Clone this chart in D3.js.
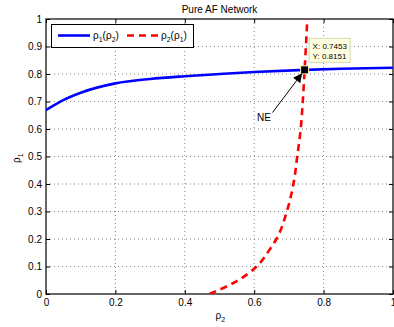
<!DOCTYPE html>
<html>
<head>
<meta charset="utf-8">
<script src="https://cdn.jsdelivr.net/npm/d3@7"></script>
<style>
  html, body { margin: 0; padding: 0; background: #fff; }
  svg { display: block; font-family: "Liberation Sans", Arial, sans-serif; }
</style>
</head>
<body>
<svg id="chart" width="394" height="327"></svg>
<script>
// ρ1 as a function of ρ2 (solid blue)
const blueRho2 = [0, 0.04, 0.1, 0.2, 0.3, 0.4, 0.5, 0.6, 0.7453, 0.85, 1];
const blueRho1 = [0.669, 0.699, 0.732, 0.766, 0.782, 0.792, 0.800, 0.807, 0.8151, 0.819, 0.823];

// ρ2 as a function of ρ1 (dashed red)
const redRho1 = [0, 0.04, 0.1, 0.155, 0.2, 0.3, 0.4, 0.5, 0.6, 0.7, 0.8151, 0.9, 1];
const redRho2 = [0.471, 0.54, 0.607, 0.641, 0.664, 0.694, 0.713, 0.724, 0.734, 0.740, 0.7453, 0.749, 0.753];

// Nash equilibrium point
const neX = 0.7453;
const neY = 0.8151;

const xTicks = [0, 0.2, 0.4, 0.6, 0.8, 1];
const yTicks = [0, 0.1, 0.2, 0.3, 0.4, 0.5, 0.6, 0.7, 0.8, 0.9, 1];
const xTickLabels = ["0", "0.2", "0.4", "0.6", "0.8", "1"];
const yTickLabels = ["0", "0.1", "0.2", "0.3", "0.4", "0.5", "0.6", "0.7", "0.8", "0.9", "1"];

const svg = d3.select("#chart");
const plotL = 46, plotR = 393, plotT = 19, plotB = 294;

const x = d3.scaleLinear().domain([0, 1]).range([plotL, plotR]);
const y = d3.scaleLinear().domain([0, 1]).range([plotB, plotT]);

const defs = svg.append("defs");
defs.append("clipPath").attr("id", "plotClip")
  .append("rect").attr("x", plotL).attr("y", plotT)
  .attr("width", plotR - plotL).attr("height", plotB - plotT);

// dotted grid
const grid = svg.append("g").attr("stroke", "#333").attr("stroke-width", 0.6)
  .attr("stroke-dasharray", "1,3").attr("fill", "none");
xTicks.slice(1, -1).forEach(t => {
  grid.append("line").attr("x1", x(t)).attr("x2", x(t)).attr("y1", plotT).attr("y2", plotB);
});
yTicks.slice(1, -1).forEach(t => {
  grid.append("line").attr("x1", plotL).attr("x2", plotR).attr("y1", y(t)).attr("y2", y(t));
});

// axes with inward ticks
const tickFmtX = (d, i) => xTickLabels[i];
const tickFmtY = (d, i) => yTickLabels[i];
const axisStyle = g => {
  g.select(".domain").remove();
  g.selectAll("text").attr("font-size", 10).attr("fill", "#000")
    .attr("font-family", "Liberation Sans, Arial, sans-serif");
  g.selectAll("line").attr("stroke", "#000");
};
svg.append("g").attr("transform", `translate(0,${plotB})`)
  .call(d3.axisBottom(x).tickValues(xTicks).tickFormat(tickFmtX).tickSizeInner(-4).tickPadding(5))
  .call(axisStyle);
svg.append("g").attr("transform", `translate(${plotL},0)`)
  .call(d3.axisLeft(y).tickValues(yTicks).tickFormat(tickFmtY).tickSizeInner(-4).tickPadding(4))
  .call(axisStyle);
svg.append("g").attr("transform", `translate(0,${plotT})`)
  .call(d3.axisTop(x).tickValues(xTicks).tickFormat("").tickSizeInner(-4))
  .call(axisStyle);
svg.append("g").attr("transform", `translate(${plotR},0)`)
  .call(d3.axisRight(y).tickValues(yTicks).tickFormat("").tickSizeInner(-4))
  .call(axisStyle);

// frame
svg.append("rect").attr("x", plotL).attr("y", plotT)
  .attr("width", plotR - plotL).attr("height", plotB - plotT)
  .attr("fill", "none").attr("stroke", "#000").attr("stroke-width", 1.2);

const plot = svg.append("g").attr("clip-path", "url(#plotClip)");

// blue curve
const blueData = blueRho2.map((v, i) => [v, blueRho1[i]]);
plot.append("path").datum(blueData)
  .attr("d", d3.line().x(d => x(d[0])).y(d => y(d[1])).curve(d3.curveMonotoneX))
  .attr("fill", "none").attr("stroke", "#0000ff").attr("stroke-width", 2.6);

// red dashed curve
const redData = redRho1.map((v, i) => [redRho2[i], v]);
plot.append("path").datum(redData)
  .attr("d", d3.line().x(d => x(d[0])).y(d => y(d[1])).curve(d3.curveMonotoneY))
  .attr("fill", "none").attr("stroke", "#ff0000").attr("stroke-width", 2.6)
  .attr("stroke-dasharray", "7,5");

// equilibrium marker
svg.append("rect")
  .attr("x", x(neX) - 4).attr("y", y(neY) - 4)
  .attr("width", 8).attr("height", 8)
  .attr("fill", "#000").attr("stroke", "#ffffcc").attr("stroke-width", 1);

// data tip
const tip = svg.append("g");
tip.append("rect").attr("x", x(neX) + 4.5).attr("y", y(neY) - 31.5)
  .attr("width", 41).attr("height", 24)
  .attr("fill", "#ffffe1").attr("stroke", "#d8d8b0").attr("stroke-width", 1);
tip.append("text").attr("x", x(neX) + 8).attr("y", y(neY) - 21)
  .attr("font-size", 8).attr("fill", "#000").text(`X: ${neX.toFixed(4)}`);
tip.append("text").attr("x", x(neX) + 8).attr("y", y(neY) - 11)
  .attr("font-size", 8).attr("fill", "#000").text(`Y: ${neY.toFixed(4)}`);

// NE annotation arrow
defs.append("marker").attr("id", "arrowHead")
  .attr("viewBox", "0 0 10 10").attr("refX", 10).attr("refY", 5)
  .attr("markerWidth", 9).attr("markerHeight", 9).attr("markerUnits", "userSpaceOnUse")
  .attr("orient", "auto")
  .append("path").attr("d", "M0,0 L10,5 L0,10 z").attr("fill", "#000");
svg.append("line")
  .attr("x1", 272.5).attr("y1", 112.5)
  .attr("x2", x(neX) - 2.5).attr("y2", y(neY) + 3.5)
  .attr("stroke", "#000").attr("stroke-width", 1)
  .attr("marker-end", "url(#arrowHead)");
svg.append("text").attr("x", 257).attr("y", 121)
  .attr("font-size", 10).attr("fill", "#000").text("NE");

// legend
const lg = svg.append("g");
lg.append("rect").attr("x", 51.5).attr("y", 24.5).attr("width", 142).attr("height", 23)
  .attr("fill", "#fff").attr("stroke", "#000").attr("stroke-width", 1);
lg.append("line").attr("x1", 58).attr("x2", 90).attr("y1", 35.5).attr("y2", 35.5)
  .attr("stroke", "#0000ff").attr("stroke-width", 2.6);
const t1 = lg.append("text").attr("x", 93).attr("y", 39).attr("font-size", 10).attr("fill", "#000");
t1.append("tspan").text("ρ");
t1.append("tspan").attr("font-size", 7).attr("dy", 3).text("1");
t1.append("tspan").attr("dy", -3).text("(ρ");
t1.append("tspan").attr("font-size", 7).attr("dy", 3).text("2");
t1.append("tspan").attr("dy", -3).text(")");
lg.append("line").attr("x1", 127).attr("x2", 158).attr("y1", 35.5).attr("y2", 35.5)
  .attr("stroke", "#ff0000").attr("stroke-width", 2.6).attr("stroke-dasharray", "7,5");
const t2 = lg.append("text").attr("x", 161).attr("y", 39).attr("font-size", 10).attr("fill", "#000");
t2.append("tspan").text("ρ");
t2.append("tspan").attr("font-size", 7).attr("dy", 3).text("2");
t2.append("tspan").attr("dy", -3).text("(ρ");
t2.append("tspan").attr("font-size", 7).attr("dy", 3).text("1");
t2.append("tspan").attr("dy", -3).text(")");

// title
svg.append("text").attr("x", (plotL + plotR) / 2).attr("y", 13)
  .attr("text-anchor", "middle").attr("font-size", 10).attr("fill", "#000")
  .text("Pure AF Network");

// axis labels
const xl = svg.append("text").attr("x", (plotL + plotR) / 2 - 4).attr("y", 319)
  .attr("font-size", 10).attr("fill", "#000");
xl.append("tspan").text("ρ");
xl.append("tspan").attr("font-size", 7).attr("dy", 3).text("2");

const yl = svg.append("text")
  .attr("transform", `translate(20,163) rotate(-90)`)
  .attr("font-size", 10).attr("fill", "#000");
yl.append("tspan").text("ρ");
yl.append("tspan").attr("font-size", 7).attr("dy", 3).text("1");
</script>
</body>
</html>
